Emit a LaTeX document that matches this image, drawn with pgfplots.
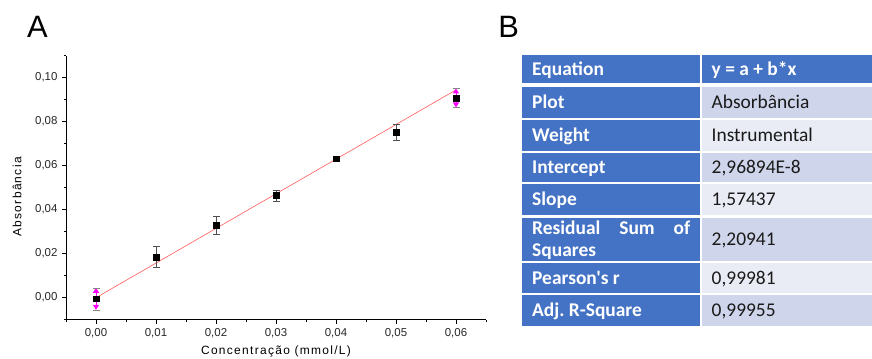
\documentclass[border=0pt]{standalone}
\usepackage{pgfplots}
\pgfplotsset{compat=1.18}
\usepackage{fontspec}
\setmainfont{Liberation Sans}
\newfontfamily\calibri{Carlito}
\usetikzlibrary{arrows.meta}
\definecolor{tblue}{HTML}{4472C4}
\definecolor{rowdark}{HTML}{CFD5EA}
\definecolor{rowlight}{HTML}{E9EBF5}
\definecolor{fitred}{HTML}{FF5A5A}
\definecolor{errgray}{HTML}{505050}
\definecolor{txt}{HTML}{1A1A1A}
\definecolor{mag}{HTML}{FF00FF}
\frenchspacing
\pgfplotstableread{
x y e
0.01 0.0185 0.0047
0.02 0.0330 0.0040
0.03 0.0465 0.0025
0.04 0.0632 0.0005
0.05 0.0752 0.0036
}\ptsnormal
\pgfplotstableread{
x y e
0.00 -0.0005 0.0050
0.06 0.0908 0.0043
}\ptsmag
\begin{document}
\begin{tikzpicture}[x=1bp,y=1bp]
\useasboundingbox (0,0) rectangle (872,358);
\begin{axis}[
  at={(66bp,38.3bp)}, anchor=south west,
  scale only axis, width=420bp, height=264bp,
  xmin=-0.005, xmax=0.065, ymin=-0.01, ymax=0.11,
  axis x line*=bottom, axis y line*=left,
  axis line style={line width=0.9pt, black},
  tick align=outside,
  xtick={0,0.01,0.02,0.03,0.04,0.05,0.06},
  minor xtick={-0.005,0.005,0.015,0.025,0.035,0.045,0.055,0.065},
  ytick={0,0.02,0.04,0.06,0.08,0.10},
  minor ytick={-0.01,0.01,0.03,0.05,0.07,0.09,0.11},
  major tick length=4bp, minor tick length=2.5bp,
  every tick/.style={line width=0.9pt, black},
  scaled x ticks=false, scaled y ticks=false,
  /pgf/number format/.cd, fixed, fixed zerofill, precision=2, use comma, assume math mode=true,
  /pgfplots/.cd,
  ticklabel style={font=\fontsize{11.5}{12}\selectfont, text=black!85},
  xticklabel style={yshift=-1bp},
  yticklabel style={xshift=-1bp},
  xlabel={Concentração (mmol/L)},
  ylabel={Absorbância},
  label style={font=\fontsize{12}{13}\selectfont\addfontfeature{LetterSpace=11}},
  xlabel style={at={(axis description cs:0.5,0)}, anchor=center, yshift=-32bp},
  ylabel style={at={(axis description cs:-0.1167,0.465)}, anchor=center},
  clip=false,
]
\addplot[fitred, line width=0.6pt] coordinates {(0,0.0000000297) (0.06,0.0944622)};
\addplot[only marks, mark=square*, mark size=2.8bp, black,
  error bars/.cd, y dir=both, y explicit,
  error bar style={errgray, line width=0.6pt},
  error mark options={errgray, mark size=3.5bp, line width=0.6pt, rotate=90}]
  table[x=x, y=y, y error=e] {\ptsnormal};
\addplot[only marks, mark=square*, mark size=2.8bp, black,
  error bars/.cd, y dir=both, y explicit,
  error bar style={mag, line width=1pt, -{Triangle[length=5bp,width=6bp]}},
  error mark options={errgray!70, mark size=3.5bp, line width=0.5pt, rotate=90}]
  table[x=x, y=y, y error=e] {\ptsmag};
\end{axis}
% panel letters
\node[anchor=base, font=\fontsize{31}{31}\selectfont] at (37.5,320.3) {A};
\node[anchor=base, font=\fontsize{31}{31}\selectfont] at (508.7,320.7) {B};
% table
\def\L{521.5}\def\M{699.5}\def\N{702}\def\R{872}
\fill[tblue] (\L,303) rectangle (\M,275);
\fill[tblue] (\N,303) rectangle (\R,275);
\foreach \t/\b in {271/240, 238/207.5, 205.5/176, 174/143, 140.5/97.5, 95.5/65, 63/32}{
  \fill[tblue] (\L,\t) rectangle (\M,\b);
}
\fill[rowdark] (\N,271) rectangle (\R,240);
\fill[rowlight] (\N,238) rectangle (\R,207.5);
\fill[rowdark] (\N,205.5) rectangle (\R,176);
\fill[rowlight] (\N,174) rectangle (\R,143);
\fill[rowdark] (\N,140.5) rectangle (\R,97.5);
\fill[rowlight] (\N,95.5) rectangle (\R,65);
\fill[rowdark] (\N,63) rectangle (\R,32);
\tikzset{lc/.style={anchor=base west, inner sep=0pt, text=white, font=\calibri\bfseries\fontsize{19.5}{22}\selectfont},
         rc/.style={anchor=base west, inner sep=0pt, text=txt, font=\calibri\fontsize{19.5}{22}\selectfont}}
\node[lc] at (532,282.8) {Equation};
\node[lc] at (711.5,282.8) {y = a + b*x};
\node[lc] at (532,249.2) {Plot};
\node[rc] at (711.5,249.2) {Absorbância};
\node[lc] at (532,216.4) {Weight};
\node[rc] at (711.5,216.4) {Instrumental};
\node[lc] at (532,184.4) {Intercept};
\node[rc] at (711.5,184.4) {2,96894E-8};
\node[lc] at (532,152.2) {Slope};
\node[rc] at (711.5,152.2) {1,57437};
\node[lc] at (532,124) {\makebox[158bp][s]{Residual Sum of}};
\node[lc] at (532,101.3) {Squares};
\node[rc] at (711.5,112.8) {2,20941};
\node[lc] at (532,73.9) {Pearson's r};
\node[rc] at (711.5,73.9) {0,99981};
\node[lc] at (532,41.2) {Adj.\ R-Square};
\node[rc] at (711.5,41.2) {0,99955};
\end{tikzpicture}
\end{document}
